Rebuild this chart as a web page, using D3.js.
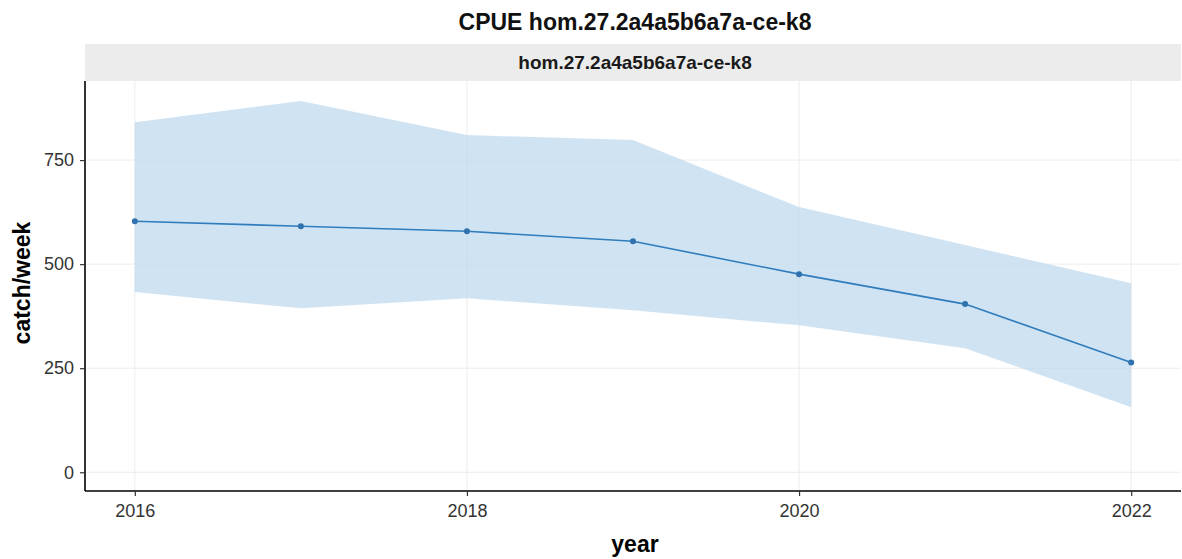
<!DOCTYPE html>
<html>
<head>
<meta charset="utf-8">
<script src="https://cdn.jsdelivr.net/npm/d3@7"></script>
<style>
  body { margin: 0; background: #fff; }
  svg { display: block; font-family: "Liberation Sans", Arial, sans-serif; }
</style>
</head>
<body>
<svg id="chart"></svg>
<script>
// data
const years = [2016, 2017, 2018, 2019, 2020, 2021, 2022];
const cpue = [603, 591, 579, 555, 476, 404, 264];
const upper = [841, 892, 810, 798, 637, 546, 454];
const lower = [433, 394, 418, 389, 353, 298, 156];
const yTicks = [0, 250, 500, 750];
const xTicks = [2016, 2018, 2020, 2022];
const stock = 'hom.27.2a4a5b6a7a-ce-k8';

const width = 1182, height = 559;
const margin = { top: 81, right: 1, bottom: 68, left: 85 };

const svg = d3.select('#chart').attr('width', width).attr('height', height);

const data = years.map((y, i) => ({ year: y, v: cpue[i], hi: upper[i], lo: lower[i] }));

const x = d3.scaleLinear()
  .domain([2016 - 0.3, 2022 + 0.3])
  .range([margin.left, width - margin.right]);
const y = d3.scaleLinear()
  .domain([-45, 940])
  .range([height - margin.bottom, margin.top]);

// title
svg.append('text')
  .attr('x', 635).attr('y', 30)
  .attr('text-anchor', 'middle')
  .attr('font-size', '23px').attr('font-weight', 'bold')
  .attr('fill', '#111')
  .text('CPUE ' + stock);

// facet strip
svg.append('rect')
  .attr('x', margin.left).attr('y', 44)
  .attr('width', width - margin.left - margin.right).attr('height', margin.top - 44)
  .attr('fill', '#ececec');
svg.append('text')
  .attr('x', 635).attr('y', 69)
  .attr('text-anchor', 'middle')
  .attr('font-size', '19px').attr('font-weight', 'bold')
  .attr('fill', '#1a1a1a')
  .text(stock);

// grid
const grid = svg.append('g').attr('stroke', '#ececec').attr('stroke-width', 1);
grid.selectAll('.gx').data(xTicks).join('line')
  .attr('x1', d => x(d)).attr('x2', d => x(d))
  .attr('y1', margin.top).attr('y2', height - margin.bottom);
grid.selectAll('.gy').data(yTicks).join('line')
  .attr('x1', margin.left).attr('x2', width - margin.right)
  .attr('y1', d => y(d)).attr('y2', d => y(d));

// ribbon
const area = d3.area()
  .x(d => x(d.year))
  .y0(d => y(d.lo))
  .y1(d => y(d.hi));
svg.append('path')
  .datum(data)
  .attr('fill', '#bcd7ee')
  .attr('fill-opacity', 0.7)
  .attr('d', area);

// line + points
const line = d3.line().x(d => x(d.year)).y(d => y(d.v));
svg.append('path')
  .datum(data)
  .attr('fill', 'none')
  .attr('stroke', '#2f7dbd')
  .attr('stroke-width', 1.6)
  .attr('d', line);
svg.selectAll('.pt').data(data).join('circle')
  .attr('cx', d => x(d.year)).attr('cy', d => y(d.v))
  .attr('r', 3)
  .attr('fill', '#2f72ad');

// axes
const xAxis = d3.axisBottom(x).tickValues(xTicks).tickFormat(d3.format('d')).tickSize(5).tickSizeOuter(0);
const gx = svg.append('g')
  .attr('transform', `translate(0,${height - margin.bottom})`)
  .call(xAxis);
const yAxis = d3.axisLeft(y).tickValues(yTicks).tickSize(5).tickSizeOuter(0);
const gy = svg.append('g')
  .attr('transform', `translate(${margin.left},0)`)
  .call(yAxis);

[gx, gy].forEach(g => {
  g.select('.domain').attr('stroke', '#000').attr('stroke-width', 1.6);
  g.selectAll('.tick line').attr('stroke', '#333').attr('stroke-width', 1.2);
  g.selectAll('.tick text').attr('font-size', '18px').attr('fill', '#333')
    .attr('font-family', '"Liberation Sans", Arial, sans-serif');
});
gx.select('.domain').attr('d', `M${margin.left},0H${width - margin.right}`);
gy.select('.domain').attr('d', `M0,${margin.top}V${height - margin.bottom}`);
gx.selectAll('.tick text').attr('y', 13);
gy.selectAll('.tick text').attr('x', -11);

// axis titles
svg.append('text')
  .attr('x', 635).attr('y', 552)
  .attr('text-anchor', 'middle')
  .attr('font-size', '23px').attr('font-weight', 'bold')
  .text('year');
svg.append('text')
  .attr('transform', `translate(30,283) rotate(-90)`)
  .attr('text-anchor', 'middle')
  .attr('font-size', '23px').attr('font-weight', 'bold')
  .text('catch/week');
</script>
</body>
</html>
